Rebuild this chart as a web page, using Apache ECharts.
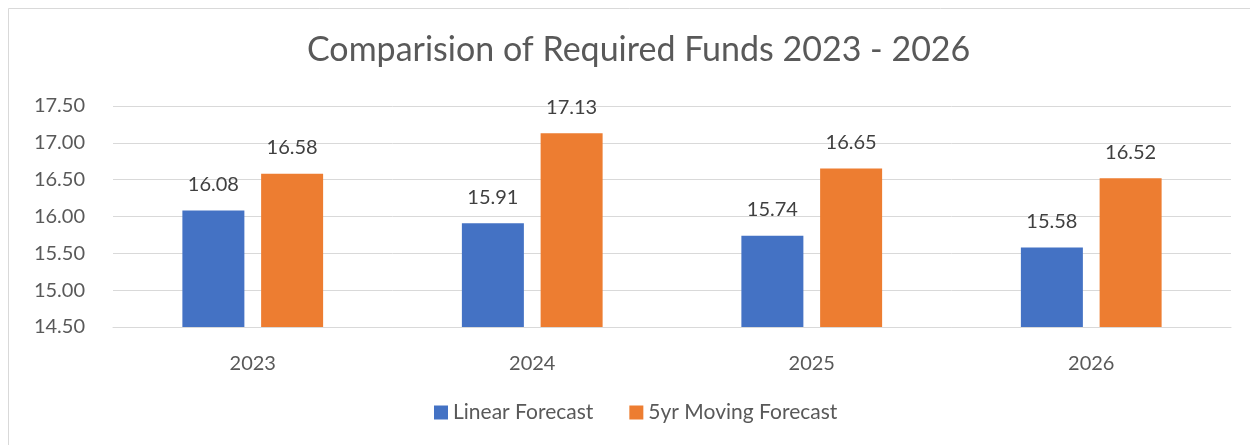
<!DOCTYPE html>
<html>
<head>
<meta charset="utf-8">
<script src="https://cdn.jsdelivr.net/npm/echarts@6/dist/echarts.min.js"></script>
<style>
  html, body { margin: 0; padding: 0; background: #fff; }
  #chart { width: 1250px; height: 445px; }
</style>
</head>
<body>
<div id="chart"></div>
<script>
var years = ['2023', '2024', '2025', '2026'];
var linearForecast = [16.08, 15.91, 15.74, 15.58];
var movingForecast = [16.58, 17.13, 16.65, 16.52];

var myChart = echarts.init(document.getElementById('chart'));
var fontName = 'Lato';

myChart.setOption({
  backgroundColor: '#fff',
  animation: false,
  title: {
    text: 'Comparision of Required Funds 2023 - 2026',
    left: 302,
    top: 28,
    textStyle: { fontFamily: fontName, fontSize: 34, fontWeight: 'normal', color: '#595959' }
  },
  graphic: [{
    type: 'rect',
    shape: { x: 8.5, y: 8.5, width: 1260, height: 460 },
    style: { fill: 'none', stroke: '#d9d9d9', lineWidth: 1 },
    silent: true
  }],
  legend: {
    bottom: 17,
    left: 429,
    itemWidth: 14,
    itemHeight: 14,
    itemGap: 36,
    icon: 'rect',
    textStyle: { fontFamily: fontName, fontSize: 21, color: '#595959' },
    data: ['Linear Forecast', '5yr Moving Forecast']
  },
  grid: { left: 113, right: 19, top: 106, bottom: 118 },
  xAxis: {
    type: 'category',
    data: years,
    axisTick: { show: false },
    axisLine: { lineStyle: { color: '#d9d9d9', width: 1 } },
    axisLabel: { fontFamily: fontName, fontSize: 20, color: '#595959', margin: 27 }
  },
  yAxis: {
    type: 'value',
    min: 14.5,
    max: 17.5,
    interval: 0.5,
    axisLine: { show: false },
    axisTick: { show: false },
    splitLine: { lineStyle: { color: '#d9d9d9', width: 1 } },
    axisLabel: {
      fontFamily: fontName, fontSize: 20, color: '#595959', margin: 28,
      formatter: function (v) { return v.toFixed(2); }
    }
  },
  series: [{
    name: 'Linear Forecast',
    type: 'bar',
    data: linearForecast,
    barWidth: 62,
    barGap: '27%',
    itemStyle: { color: '#4472C4' },
    label: {
      show: true, position: 'top', distance: 16,
      fontFamily: fontName, fontSize: 20, color: '#404040',
      formatter: function (p) { return p.value.toFixed(2); }
    }
  }, {
    name: '5yr Moving Forecast',
    type: 'bar',
    data: movingForecast,
    barWidth: 62,
    itemStyle: { color: '#ED7D31' },
    label: {
      show: true, position: 'top', distance: 16,
      fontFamily: fontName, fontSize: 20, color: '#404040',
      formatter: function (p) { return p.value.toFixed(2); }
    }
  }]
});
</script>
</body>
</html>
